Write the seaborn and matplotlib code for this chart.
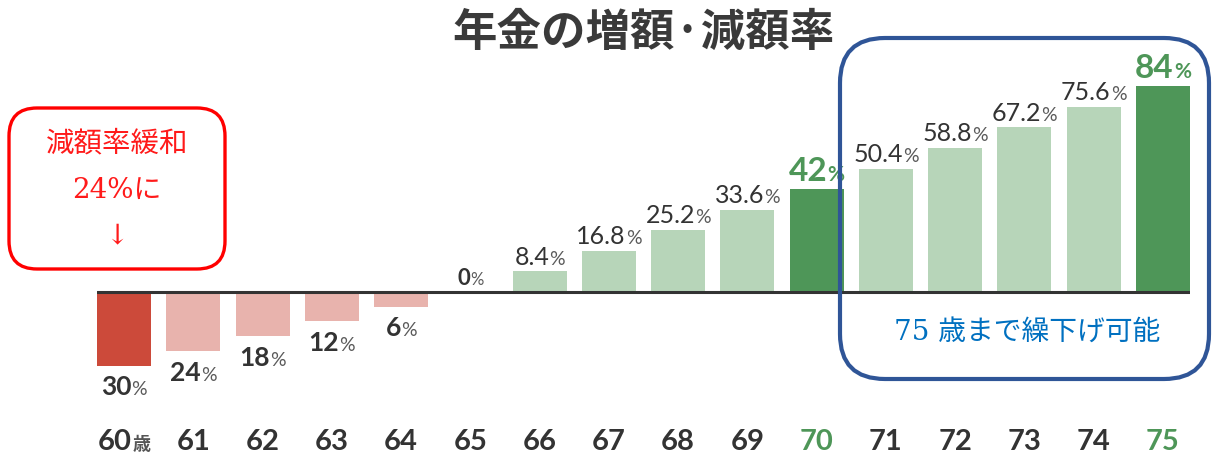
import matplotlib
matplotlib.use("Agg")
import numpy as np
import pandas as pd
import matplotlib.pyplot as plt
import seaborn as sns
from matplotlib.patches import FancyBboxPatch
from matplotlib.offsetbox import TextArea, HPacker, AnnotationBbox

# ---- data ----
ages = ['60', '61', '62', '63', '64', '65', '66', '67', '68', '69',
        '70', '71', '72', '73', '74', '75']
rates = [-30, -24, -18, -12, -6, 0, 8.4, 16.8, 25.2, 33.6,
         42, 50.4, 58.8, 67.2, 75.6, 84]
rate_labels = ['30', '24', '18', '12', '6', '0', '8.4', '16.8', '25.2', '33.6',
               '42', '50.4', '58.8', '67.2', '75.6', '84']
highlight = ['70', '75']
first_suffix = '歳'
title = '年金の増額·減額率'
note_left = ['減額率緩和', '24%に', '↓']
note_right = '75 歳まで繰下げ可能'

# ---- colours ----
DARK_RED = '#cc4a3a'
PINK = '#e8b3ad'
LIGHT_GREEN = '#b7d5b9'
DARK_GREEN = '#4e9658'
TXT = '#333333'
PCT = '#5a5a5a'


def bar_color(a, v):
    if a in highlight:
        return DARK_GREEN
    if v < 0:
        return DARK_RED if a == ages[0] else PINK
    return LIGHT_GREEN


bar_colors = [bar_color(a, v) for a, v in zip(ages, rates)]

sns.set_theme(style='white')
plt.rcParams['font.family'] = ['Noto Sans CJK JP', 'DejaVu Sans']
NUMF = ['Lato', 'Noto Sans CJK JP']

W, H = 1215, 457
fig = plt.figure(figsize=(W / 100, H / 100), dpi=100)
fig.patch.set_facecolor('white')
ax = fig.add_axes([97 / W, 67 / H, 1093 / W, 343 / H])

df = pd.DataFrame({'age': ages, 'rate': rates})
sns.barplot(data=df, x='age', y='rate', hue='age', palette=bar_colors,
            width=0.78, saturation=1, legend=False, dodge=False,
            linewidth=0, ax=ax)

ax.set_xlim(-0.39, 15.39)
ax.set_ylim(-40, 100)
ax.axhline(0, color=TXT, lw=2.2, zorder=3)
ax.set_xlabel('')
ax.set_ylabel('')
ax.set_yticks([])
ax.tick_params(axis='x', length=0, labelbottom=False)
for s in ax.spines.values():
    s.set_visible(False)
ax.set_facecolor('none')

ax.text(0.5, 1.041, title, transform=ax.transAxes, ha='center', va='center',
        fontsize=32, fontweight='bold', color='#3a3a3a')

# ---- value labels ----
for i, (a, v, lab) in enumerate(zip(ages, rates, rate_labels)):
    if a in highlight:
        nprops = dict(fontsize=24, fontweight='bold', color=DARK_GREEN, family=NUMF)
        pprops = dict(fontsize=15, fontweight='bold', color=DARK_GREEN, family=NUMF)
    elif v < 0:
        nprops = dict(fontsize=19, fontweight='bold', color=TXT, family=NUMF)
        pprops = dict(fontsize=14, color=PCT, family=NUMF)
    elif v == 0:
        nprops = dict(fontsize=16, fontweight='bold', color=TXT, family=NUMF)
        pprops = dict(fontsize=12, color=PCT, family=NUMF)
    else:
        nprops = dict(fontsize=18, color=TXT, family=NUMF)
        pprops = dict(fontsize=14, color=PCT, family=NUMF)
    pack = HPacker(children=[TextArea(lab, textprops=nprops),
                             TextArea('%', textprops=pprops)],
                   align='baseline', pad=0, sep=0)
    if v < 0:
        ab = AnnotationBbox(pack, (i, v), xybox=(0, -7), boxcoords='offset points',
                            box_alignment=(0.5, 1), frameon=False, pad=0)
    else:
        ab = AnnotationBbox(pack, (i, v), xybox=(0, 2), boxcoords='offset points',
                            box_alignment=(0.5, 0), frameon=False, pad=0)
    ax.add_artist(ab)

# ---- x tick labels ----
for i, a in enumerate(ages):
    col = DARK_GREEN if a in highlight else TXT
    children = [TextArea(a, textprops=dict(fontsize=21, fontweight='bold',
                                           color=col, family=NUMF))]
    if i == 0:
        children.append(TextArea(first_suffix,
                                 textprops=dict(fontsize=13, fontweight='bold', color='#555555')))
    pack = HPacker(children=children, align='baseline', pad=0, sep=1)
    ab = AnnotationBbox(pack, (i, -0.19), xycoords=ax.get_xaxis_transform(),
                        box_alignment=(0.5, 0), frameon=False, pad=0,
                        annotation_clip=False)
    ax.add_artist(ab)

# ---- overlay annotations (pixel coordinates) ----
ov = fig.add_axes([0, 0, 1, 1], zorder=5)
ov.set_xlim(0, W)
ov.set_ylim(H, 0)
ov.axis('off')
ov.patch.set_alpha(0)

ov.add_patch(FancyBboxPatch((9, 108), 216, 161,
                            boxstyle='round,pad=0,rounding_size=28',
                            fill=False, ec='#ff0000', lw=2.4))
ov.add_patch(FancyBboxPatch((840, 38), 369, 341,
                            boxstyle='round,pad=0,rounding_size=45',
                            fill=False, ec='#2f5597', lw=3.0))

RED = '#ff1a1a'
SERIF = ['DejaVu Serif', 'Noto Sans CJK JP']
ov.text(117, 143, note_left[0], ha='center', va='center', fontsize=20.5,
        color=RED, family=['Noto Sans CJK JP'])
ov.text(117, 190, note_left[1], ha='center', va='center', fontsize=20,
        color=RED, family=SERIF)
ov.text(117, 236, note_left[2], ha='center', va='center', fontsize=20,
        color=RED, family=SERIF)
ov.text(1027, 332, note_right, ha='center', va='center', fontsize=20,
        color='#0070c0', family=SERIF)

fig.savefig('out.png', dpi=100, facecolor='white')
